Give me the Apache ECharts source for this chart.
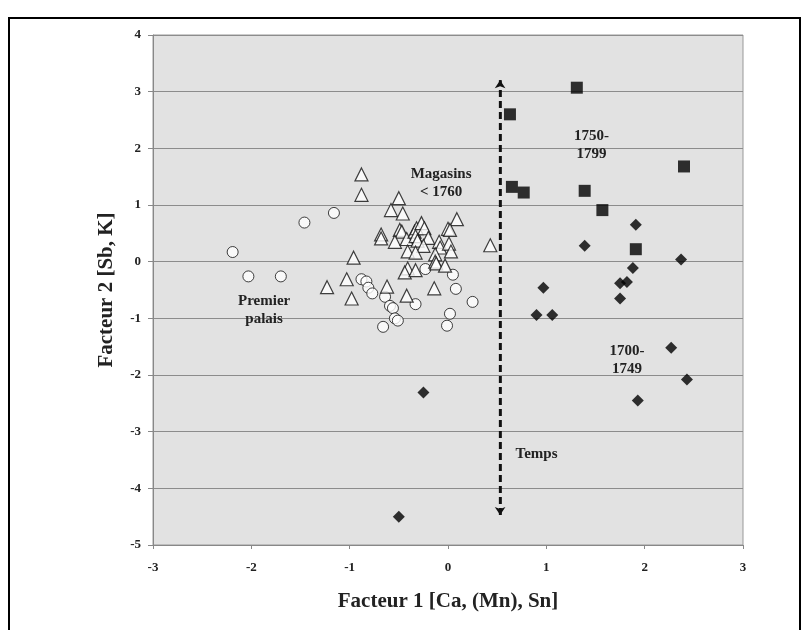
<!DOCTYPE html>
<html>
<head>
<meta charset="utf-8">
<script src="https://cdn.jsdelivr.net/npm/echarts@6/dist/echarts.min.js"></script>
<style>
  html, body { margin: 0; padding: 0; background: #fff; }
  #main { width: 810px; height: 630px; }
</style>
</head>
<body>
<div id="main"></div>
<script>
// Premier palais (cercles)
var premierPalais = [
    [-2.19, 0.17], [-2.03, -0.26], [-1.70, -0.26], [-1.46, 0.69], [-1.16, 0.86],
    [-0.88, -0.31], [-0.83, -0.35], [-0.81, -0.46], [-0.77, -0.56], [-0.64, -0.62],
    [-0.59, -0.78], [-0.56, -0.82], [-0.54, -1.00], [-0.51, -1.04], [-0.66, -1.15],
    [-0.33, -0.75], [-0.23, -0.13], [0.05, -0.23], [0.08, -0.48], [0.25, -0.71],
    [0.02, -0.92], [-0.01, -1.13]
];
// Magasins < 1760 (triangles)
var magasins = [
    [-0.88, 1.54], [-0.88, 1.18], [-0.50, 1.12], [-0.58, 0.91], [-0.46, 0.85],
    [0.09, 0.75], [-0.68, 0.48], [-0.68, 0.41], [-0.49, 0.56], [-0.47, 0.53],
    [-0.54, 0.35], [-0.42, 0.40], [-0.34, 0.53], [-0.32, 0.59], [-0.27, 0.68],
    [-0.24, 0.59], [-0.33, 0.45], [-0.20, 0.42], [-0.31, 0.37], [-0.25, 0.28],
    [-0.41, 0.18], [-0.33, 0.16], [-0.09, 0.35], [-0.08, 0.25], [0.00, 0.58],
    [0.02, 0.56], [0.01, 0.32], [0.03, 0.18], [-0.13, 0.13], [-0.13, 0.00],
    [-0.12, -0.03], [-0.03, -0.07], [-0.41, -0.12], [-0.44, -0.19], [-0.33, -0.15],
    [-0.96, 0.07], [-1.03, -0.31], [-1.23, -0.45], [-0.98, -0.65], [-0.62, -0.44],
    [-0.42, -0.60], [-0.14, -0.47], [0.43, 0.29]
];
// 1750-1799 (carres)
var periode1750 = [
    [1.31, 3.07], [0.63, 2.60], [0.65, 1.32], [0.77, 1.22], [1.39, 1.25],
    [1.57, 0.91], [2.40, 1.68], [1.91, 0.22]
];
// 1700-1749 (losanges)
var periode1700 = [
    [1.91, 0.65], [1.39, 0.28], [2.37, 0.04], [1.88, -0.11], [1.75, -0.38],
    [1.82, -0.36], [1.75, -0.65], [0.97, -0.46], [0.90, -0.94], [1.06, -0.94],
    [2.27, -1.52], [2.43, -2.08], [1.93, -2.45], [-0.25, -2.31], [-0.50, -4.50]
];
// fleche "Temps"
var fleche = [[0.53, -4.47], [0.53, 3.2]];
// annotations
var etiquettes = [
    [-0.07, 1.38, 'Magasins\n< 1760'],
    [1.46, 2.05, '1750-\n1799'],
    [-1.87, -0.85, 'Premier\npalais'],
    [1.82, -1.74, '1700-\n1749'],
    [0.90, -3.4, 'Temps']
];

var serif = 'Liberation Serif';
var chart = echarts.init(document.getElementById('main'));

var option = {
    animation: false,
    backgroundColor: '#fff',
    grid: {
        left: 153, right: 67, top: 35, bottom: 85,
        show: true,
        backgroundColor: '#e2e2e2',
        borderColor: '#999',
        borderWidth: 1
    },
    xAxis: {
        type: 'value',
        min: -3, max: 3, interval: 1,
        name: 'Facteur 1 [Ca, (Mn), Sn]',
        nameLocation: 'middle',
        nameGap: 46,
        nameTextStyle: { fontFamily: serif, fontWeight: 'bold', fontSize: 21, color: '#222' },
        axisLine: { show: true, onZero: false, lineStyle: { color: '#888' } },
        axisTick: { show: true, lineStyle: { color: '#888' }, length: 4 },
        axisLabel: { fontFamily: serif, fontWeight: 'bold', fontSize: 13, color: '#222', margin: 16 },
        splitLine: { show: false }
    },
    yAxis: {
        type: 'value',
        min: -5, max: 4, interval: 1,
        name: 'Facteur 2 [Sb, K]',
        nameLocation: 'middle',
        nameGap: 36,
        nameTextStyle: { fontFamily: serif, fontWeight: 'bold', fontSize: 21, color: '#222' },
        axisLine: { show: true, onZero: false, lineStyle: { color: '#888' } },
        axisTick: { show: true, lineStyle: { color: '#888' }, length: 5 },
        axisLabel: { fontFamily: serif, fontWeight: 'bold', fontSize: 13, color: '#222', margin: 12 },
        splitLine: { show: true, lineStyle: { color: '#8c8c8c', width: 1 } }
    },
    series: [{
        name: 'Premier palais',
        type: 'scatter',
        symbol: 'circle',
        symbolSize: 11,
        itemStyle: { color: '#fff', borderColor: '#111', borderWidth: 1 },
        data: premierPalais
    }, {
        name: 'Magasins < 1760',
        type: 'scatter',
        symbol: 'triangle',
        symbolSize: 13,
        itemStyle: { color: '#fff', borderColor: '#111', borderWidth: 1.2 },
        data: magasins
    }, {
        name: '1750-1799',
        type: 'scatter',
        symbol: 'rect',
        symbolSize: 12,
        itemStyle: { color: '#000' },
        data: periode1750
    }, {
        name: '1700-1749',
        type: 'scatter',
        symbol: 'diamond',
        symbolSize: 12,
        itemStyle: { color: '#000' },
        data: periode1700
    }, {
        name: 'Temps',
        type: 'line',
        data: fleche,
        symbol: 'none',
        lineStyle: { color: '#111', width: 2.5, type: [7, 4] },
        markLine: {
            silent: true,
            symbol: ['arrow', 'arrow'],
            symbolSize: 8,
            label: { show: false },
            lineStyle: { color: '#111', width: 2.5, type: [7, 4] },
            data: [[{ coord: fleche[0] }, { coord: fleche[1] }]]
        },
        z: 1
    }]
};
chart.setOption(option);

// cadre + annotations de texte, placees via les axes
var elements = [{
    type: 'rect',
    id: 'cadre',
    shape: { x: 9, y: 18, width: 791, height: 640 },
    style: { fill: 'none', stroke: '#000', lineWidth: 2 },
    z: 100
}];
etiquettes.forEach(function (e, i) {
    var p = chart.convertToPixel({ gridIndex: 0 }, [e[0], e[1]]);
    elements.push({
        type: 'text',
        id: 'lab' + i,
        x: p[0], y: p[1],
        z: 50,
        style: {
            text: e[2],
            font: 'bold 15px "Liberation Serif"',
            lineHeight: 18,
            fill: '#222',
            align: 'center',
            verticalAlign: 'middle'
        }
    });
});
chart.setOption({ graphic: elements });
</script>
</body>
</html>
